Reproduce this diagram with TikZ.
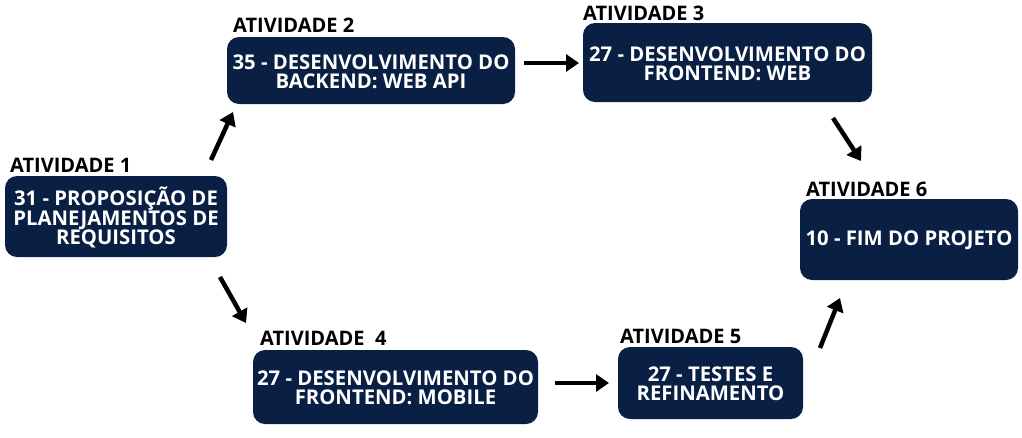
\documentclass[tikz,border=0pt]{standalone}
\usepackage{fontspec}
\setmainfont{Open Sans}
\usetikzlibrary{arrows.meta}
\definecolor{navy}{HTML}{0A1F44}
\begin{document}
\begin{tikzpicture}[x=1pt,y=-1pt,
  box/.style={fill=navy,rounded corners=12pt,inner sep=0pt,text=white,align=center,
    font=\fontsize{20.3}{19}\selectfont\bfseries},
  lbl/.style={anchor=south west,inner sep=0pt,font=\fontsize{20}{20}\selectfont\bfseries},
  arr/.style={line width=4.5pt,-{Triangle[length=13pt,width=17pt]}}]
\useasboundingbox (0,0) rectangle (1022,437);
% boxes
\path[box] (5,176) rectangle (227,257);
\node[box,fill=none] (b1) at (116,217.5) {31 - PROPOSIÇÃO DE\\PLANEJAMENTOS DE\\REQUISITOS};
\path[box] (227,37) rectangle (515,104);
\node[box,fill=none] (b2) at (371,72) {35 - DESENVOLVIMENTO DO\\BACKEND: WEB API};
\path[box] (583,23) rectangle (872,102);
\node[box,fill=none] (b3) at (727.5,64) {27 - DESENVOLVIMENTO DO\\FRONTEND: WEB};
\path[box] (800,199) rectangle (1018,280);
\node[box,fill=none] (b6) at (909,240.5) {10 - FIM DO PROJETO};
\path[box] (253,350) rectangle (538,424);
\node[box,fill=none] (b4) at (395.5,388) {27 - DESENVOLVIMENTO DO\\FRONTEND: MOBILE};
\path[box] (618,347) rectangle (803,419);
\node[box,fill=none] (b5) at (710.5,384) {27 - TESTES E\\REFINAMENTO};
% labels
\node[lbl] (l1) at (10,173) {ATIVIDADE 1};
\node[lbl] (l2) at (233,33) {ATIVIDADE 2};
\node[lbl] (l3) at (583,21) {ATIVIDADE 3};
\node[lbl] (l6) at (806,197) {ATIVIDADE 6};
\node[lbl] (l4) at (260,346) {ATIVIDADE\ \ 4};
\node[lbl] (l5) at (620,344) {ATIVIDADE 5};
% arrow ends
\coordinate (a1s) at (211,160); \coordinate (a1e) at (233,112);
\coordinate (a2s) at (524,63);  \coordinate (a2e) at (579,63);
\coordinate (a3s) at (833,118); \coordinate (a3e) at (861,161);
\coordinate (a4s) at (220,277); \coordinate (a4e) at (246,323);
\coordinate (a5s) at (555,383); \coordinate (a5e) at (609,383);
\coordinate (a6s) at (820,348); \coordinate (a6e) at (840,298);
\draw[arr] (a1s) -- (a1e);
\draw[arr] (a2s) -- (a2e);
\draw[arr] (a3s) -- (a3e);
\draw[arr] (a4s) -- (a4e);
\draw[arr] (a5s) -- (a5e);
\draw[arr] (a6s) -- (a6e);
\end{tikzpicture}
\end{document}
